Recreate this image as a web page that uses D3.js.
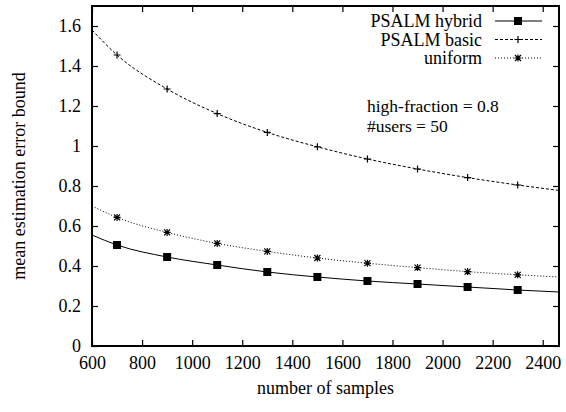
<!DOCTYPE html>
<html>
<head>
<meta charset="utf-8">
<script src="https://cdn.jsdelivr.net/npm/d3@7"></script>
<style>
  body { margin: 0; background: #fff; }
  svg text { font-family: "Liberation Serif", "Times New Roman", serif; fill: #000; }
</style>
</head>
<body>
<svg width="566" height="412"></svg>
<script>
// values
var samples = [600, 700, 900, 1100, 1300, 1500, 1700, 1900, 2100, 2300, 2465];
var hybrid  = [0.555, 0.505, 0.445, 0.405, 0.370, 0.345, 0.325, 0.310, 0.295, 0.280, 0.270];
var basic   = [1.580, 1.455, 1.285, 1.162, 1.068, 0.996, 0.935, 0.885, 0.842, 0.805, 0.778];
var uniform = [0.700, 0.643, 0.568, 0.513, 0.473, 0.440, 0.414, 0.392, 0.372, 0.356, 0.345];
var markerX = [700, 900, 1100, 1300, 1500, 1700, 1900, 2100, 2300];
var xTicks = [600, 800, 1000, 1200, 1400, 1600, 1800, 2000, 2200, 2400];
var yTicks = [0, 0.2, 0.4, 0.6, 0.8, 1, 1.2, 1.4, 1.6];
var seriesNames = ['PSALM hybrid', 'PSALM basic', 'uniform'];

var svg = d3.select('svg');
var pL = 92, pR = 559, pT = 6, pB = 346;

var x = d3.scaleLinear().domain([600, 2465]).range([pL, pR]);
var y = d3.scaleLinear().domain([0, 1.7]).range([pB, pT]);

var series = [
  { name: seriesNames[0], vals: hybrid, dash: null, mark: 'square' },
  { name: seriesNames[1], vals: basic, dash: '3,2', mark: 'plus' },
  { name: seriesNames[2], vals: uniform, dash: '1,2', mark: 'star' }
];

// ticks inside, mirrored
var axB = d3.axisBottom(x).tickValues(xTicks).tickSize(-6).tickPadding(10).tickFormat(d3.format('d'));
var axT = d3.axisTop(x).tickValues(xTicks).tickSize(-6).tickFormat('');
var axL = d3.axisLeft(y).tickValues(yTicks).tickSize(-6).tickPadding(11).tickFormat(function(d) { return String(d); });
var axR = d3.axisRight(y).tickValues(yTicks).tickSize(-6).tickFormat('');

function styleAxis(g) {
  g.select('.domain').remove();
  g.selectAll('.tick line').attr('stroke', '#000').attr('stroke-width', 1.2);
  g.selectAll('.tick text').attr('font-size', 18).attr('font-family', 'Liberation Serif');
}
svg.append('g').attr('transform', 'translate(0,' + pB + ')').call(axB).call(styleAxis);
svg.append('g').attr('transform', 'translate(0,' + pT + ')').call(axT).call(styleAxis);
svg.append('g').attr('transform', 'translate(' + pL + ',0)').call(axL).call(styleAxis);
svg.append('g').attr('transform', 'translate(' + pR + ',0)').call(axR).call(styleAxis);

var line = d3.line().x(function(d) { return x(d[0]); }).y(function(d) { return y(d[1]); }).curve(d3.curveMonotoneX);

function drawMark(g, kind, cx, cy) {
  if (kind === 'square') {
    g.append('rect').attr('x', cx - 4).attr('y', cy - 4).attr('width', 8).attr('height', 8).attr('fill', '#000');
  } else {
    var p = 'M' + (cx - 3.5) + ',' + cy + 'H' + (cx + 3.5) + 'M' + cx + ',' + (cy - 3.5) + 'V' + (cy + 3.5);
    if (kind === 'star') {
      p += 'M' + (cx - 3) + ',' + (cy - 3) + 'L' + (cx + 3) + ',' + (cy + 3) + 'M' + (cx - 3) + ',' + (cy + 3) + 'L' + (cx + 3) + ',' + (cy - 3);
    }
    g.append('path').attr('d', p).attr('stroke', '#000').attr('stroke-width', 1.2).attr('fill', 'none');
  }
}

var plot = svg.append('g');
series.forEach(function(s) {
  var pts = samples.map(function(v, i) { return [v, s.vals[i]]; });
  plot.append('path').datum(pts).attr('d', line).attr('fill', 'none')
    .attr('stroke', '#000').attr('stroke-width', 1).attr('stroke-dasharray', s.dash);
  pts.filter(function(p) { return markerX.indexOf(p[0]) >= 0; }).forEach(function(p) {
    drawMark(plot, s.mark, x(p[0]), y(p[1]));
  });
});

// border
svg.append('rect').attr('x', pL).attr('y', pT).attr('width', pR - pL).attr('height', pB - pT)
  .attr('fill', 'none').attr('stroke', '#000').attr('stroke-width', 2);

// legend
var leg = svg.append('g');
series.forEach(function(s, i) {
  var ly = 21 + i * 18.5;
  leg.append('text').attr('x', 482).attr('y', ly + 6).attr('text-anchor', 'end').attr('font-size', 18).text(s.name);
  leg.append('line').attr('x1', 495).attr('x2', 542).attr('y1', ly).attr('y2', ly)
    .attr('stroke', '#000').attr('stroke-width', 1).attr('stroke-dasharray', s.dash);
  drawMark(leg, s.mark, 518, ly);
});

// annotation
svg.append('text').attr('x', 367).attr('y', 112).attr('font-size', 17.5).text('high-fraction = 0.8');
svg.append('text').attr('x', 367).attr('y', 132).attr('font-size', 17.5).text('#users = 50');

// axis titles
svg.append('text').attr('x', (pL + pR) / 2).attr('y', 394).attr('text-anchor', 'middle').attr('font-size', 18).text('number of samples');
svg.append('text').attr('transform', 'translate(25,' + ((pT + pB) / 2) + ') rotate(-90)')
  .attr('text-anchor', 'middle').attr('font-size', 18).text('mean estimation error bound');
</script>
</body>
</html>
